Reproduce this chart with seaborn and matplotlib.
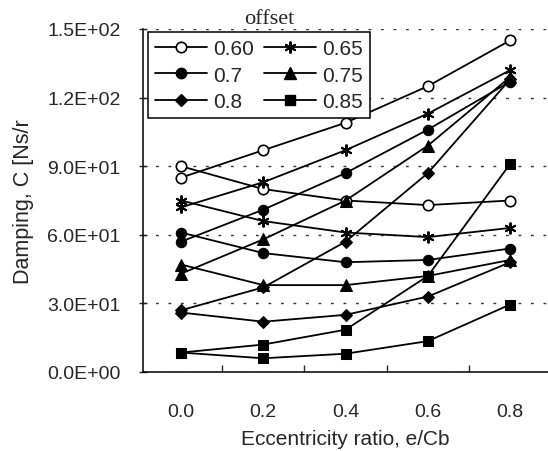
import pandas as pd
import matplotlib.pyplot as plt
import seaborn as sns
from matplotlib.lines import Line2D

# Eccentricity ratio e/Cb
ecc = [0.0, 0.2, 0.4, 0.6, 0.8]

# Damping C for each offset: rising branch and falling branch
c060_up = [85, 97, 109, 125, 145]
c060_dn = [90, 80, 75, 73, 75]
c065_up = [72, 83, 97, 113, 132]
c065_dn = [75, 66, 61, 59, 63]
c07_up = [57, 71, 87, 106, 127]
c07_dn = [61, 52, 48, 49, 54]
c075_up = [43, 58, 75, 99, 129]
c075_dn = [47, 38, 38, 42, 49]
c08_up = [27, 37, 57, 87, 128]
c08_dn = [26, 22, 25, 33, 48]
c085_up = [8.5, 12, 18.5, 42, 91]
c085_dn = [8.5, 6, 8, 13.5, 29.5]

offsets = ["0.60", "0.65", "0.7", "0.75", "0.8", "0.85"]
ups = [c060_up, c065_up, c07_up, c075_up, c08_up, c085_up]
dns = [c060_dn, c065_dn, c07_dn, c075_dn, c08_dn, c085_dn]

y_ticks = [0, 30, 60, 90, 120, 150]
y_labels = ["0.0E+00", "3.0E+01", "6.0E+01", "9.0E+01", "1.2E+02", "1.5E+02"]

# marker styles per offset
styles = {
    "0.60": dict(marker="o", markersize=7.5, markerfacecolor="white", markeredgewidth=1.2),
    "0.65": dict(marker=(6, 2, 0), markersize=8.5, markeredgewidth=1.4),
    "0.7": dict(marker="o", markersize=7.5, markerfacecolor="black"),
    "0.75": dict(marker="^", markersize=8, markerfacecolor="black"),
    "0.8": dict(marker="D", markersize=6, markerfacecolor="black"),
    "0.85": dict(marker="s", markersize=7.5, markerfacecolor="black"),
}

# long table
rows = []
for off, up, dn in zip(offsets, ups, dns):
    for x, y in zip(ecc, up):
        rows.append((off, "up", x, y))
    for x, y in zip(ecc, dn):
        rows.append((off, "dn", x, y))
df = pd.DataFrame(rows, columns=["offset", "branch", "e", "C"])

sns.set_style("white")
plt.rcParams["font.family"] = ["Liberation Sans", "DejaVu Sans"]

fig = plt.figure(figsize=(5.48, 4.52), dpi=100)
ax = fig.add_axes([143 / 548, 79 / 452, 405 / 548, 343 / 452])

for off in offsets:
    for br in ["up", "dn"]:
        sub = df[(df["offset"] == off) & (df["branch"] == br)]
        sns.lineplot(data=sub, x="e", y="C", ax=ax, color="black", linewidth=1.3,
                     markeredgecolor="black", legend=False, **styles[off])

ax.set_xlim(-0.0924, 0.892)
ax.set_ylim(0, 150)
ax.set_xticks(ecc)
ax.set_xticklabels([f"{v:.1f}" for v in ecc], fontsize=14)
ax.set_xticks([0.1, 0.3, 0.5, 0.7], minor=True)
ax.set_yticks(y_ticks)
ax.set_yticklabels(y_labels, fontsize=14)
ax.tick_params(axis="x", which="major", length=0, pad=22)
ax.tick_params(axis="x", which="minor", direction="in", length=5, width=1, bottom=True)
ax.tick_params(axis="y", direction="inout", length=6, width=1, left=True, pad=13)

ax.yaxis.grid(True, color="#333333", linestyle=(0, (2, 7)), linewidth=1)
ax.xaxis.grid(False)
for s in ["top", "right"]:
    ax.spines[s].set_visible(False)
for s in ["left", "bottom"]:
    ax.spines[s].set_color("black")
    ax.spines[s].set_linewidth(1.1)

ax.set_xlabel("Eccentricity ratio, e/Cb", fontsize=15, labelpad=7)
ax.set_ylabel("Damping, C [Ns/r", fontsize=15.5, labelpad=10)

# legend, filled column by column
order = ["0.60", "0.7", "0.8", "0.65", "0.75", "0.85"]
handles = [Line2D([], [], color="black", linewidth=1.3, markeredgecolor="black", **styles[o]) for o in order]
leg = ax.legend(handles, order, ncol=2, loc="upper left", bbox_to_anchor=(5 / 405, 1 - 3 / 343),
                borderaxespad=0, fontsize=15, handlelength=2.5, handletextpad=0.3,
                labelspacing=0.35, columnspacing=0.45, borderpad=0.35,
                frameon=True, fancybox=False, framealpha=1)
leg.get_frame().set_edgecolor("black")
leg.get_frame().set_linewidth(1.1)

fig.text(269 / 548, 1 - 24 / 452, "offset", fontsize=16, family=["Liberation Serif"],
         ha="center", va="baseline")

plt.savefig("out.png", dpi=100)
